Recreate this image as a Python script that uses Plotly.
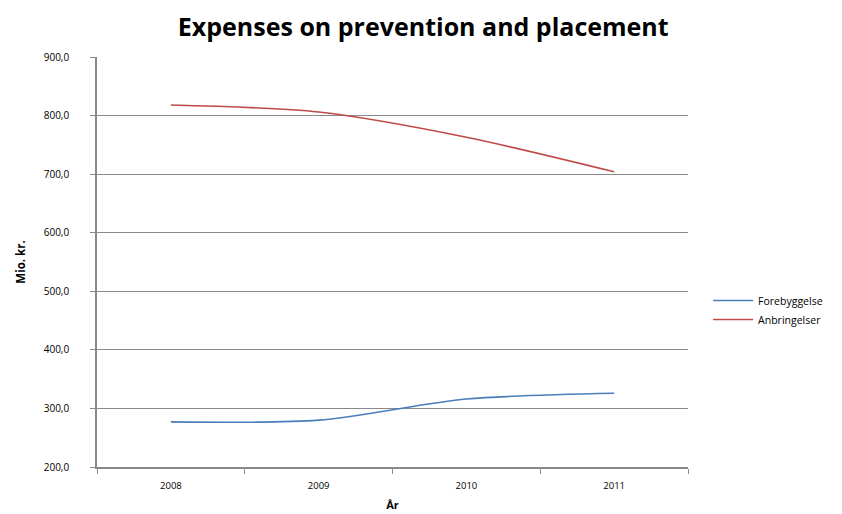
import plotly.graph_objects as go

years = ["2008", "2009", "2010", "2011"]
forebyggelse = [277, 280, 316, 326]
anbringelser = [818, 806, 763, 704]
series_names = ["Forebyggelse", "Anbringelser"]
y_ticks = [200, 300, 400, 500, 600, 700, 800, 900]

fig = go.Figure()
fig.add_trace(go.Scatter(x=years, y=forebyggelse, name=series_names[0], mode="lines",
                         line=dict(color="#4A7EBB", width=1.6, shape="spline", smoothing=0.8)))
fig.add_trace(go.Scatter(x=years, y=anbringelser, name=series_names[1], mode="lines",
                         line=dict(color="#BE4B48", width=1.6, shape="spline", smoothing=0.8)))

fig.update_layout(
    width=842, height=514,
    paper_bgcolor="white", plot_bgcolor="white",
    margin=dict(l=89, r=162, t=49, b=55, autoexpand=False),
    separators=", ",
    font=dict(family="Open Sans, Lato, sans-serif", color="#000000"),
    title=dict(text="<b>Expenses on prevention and placement</b>", x=0.552, xref="paper", xanchor="center",
               y=0.962, yanchor="middle", font=dict(size=25, family="Open Sans, Lato, sans-serif")),
    legend=dict(x=1.034, y=0.383, xanchor="left", yanchor="middle", font=dict(size=10.5),
                bgcolor="rgba(0,0,0,0)", tracegroupgap=4, itemwidth=40),
    showlegend=True,
)
fig.update_xaxes(type="category", range=[-0.5, 3.5], showline=True, linecolor="#898989", linewidth=1.6,
                 ticks="outside", tickson="boundaries", ticklen=5, tickcolor="#898989",
                 showgrid=False, tickfont=dict(size=9.5), automargin=False, ticklabelstandoff=9,
                 title=dict(text="<b>År</b>", font=dict(size=11), standoff=10))
fig.update_yaxes(range=[200, 900], tickvals=y_ticks, tickformat=".1f",
                 showline=True, linecolor="#898989", linewidth=1.6,
                 ticks="outside", ticklen=5, tickcolor="#898989",
                 showgrid=True, gridcolor="#898989", gridwidth=1.4, zeroline=False,
                 tickfont=dict(size=10), automargin=False, ticklabelstandoff=19,
                 title=dict(text="<b>Mio. kr.</b>", font=dict(size=11.5), standoff=16))

fig.write_html("out.html")
